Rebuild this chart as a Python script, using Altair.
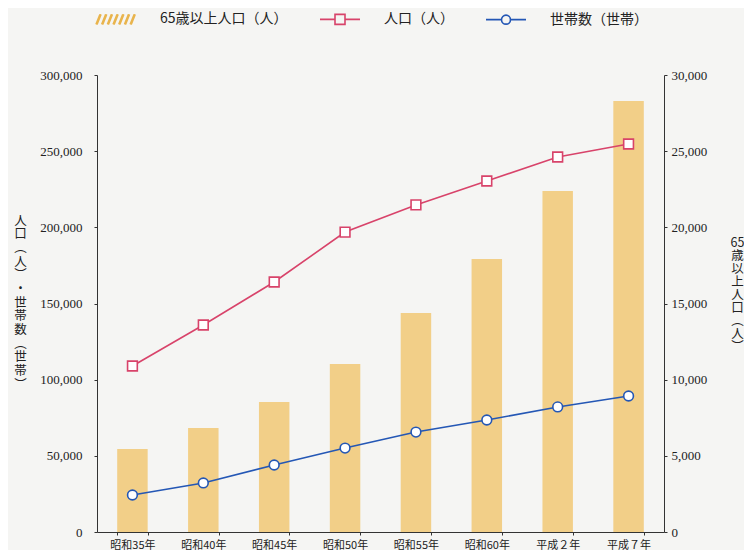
import altair as alt
import pandas as pd

# ---- data ----
years = ["昭和35年", "昭和40年", "昭和45年", "昭和50年", "昭和55年", "昭和60年", "平成２年", "平成７年"]
population = [109000, 135900, 164100, 196900, 214700, 230400, 246200, 254700]
households = [24300, 32200, 44000, 55100, 65600, 73500, 82100, 89300]
elderly = [5450, 6830, 8530, 11030, 14380, 17920, 22390, 28290]

legend_labels = ["65歳以上人口（人）", "人口（人）", "世帯数（世帯）"]
left_title = ["人", "口", "︵", "人", "︶", "・", "世", "帯", "数", "︵", "世", "帯", "︶"]
right_title = ["65", "歳", "以", "上", "人", "口", "︵", "人", "︶"]
left_ticks = [0, 50000, 100000, 150000, 200000, 250000, 300000]
right_ticks = [0, 5000, 10000, 15000, 20000, 25000, 30000]

# ---- styles ----
BAR = "#F2CF88"
HATCH = "#E9B44C"
RED = "#D8436A"
BLUE = "#2457B5"
AXIS = "#333333"
TEXT = "#222222"
CJK = "Noto Sans CJK JP"
SERIF = "Liberation Serif"

df = pd.DataFrame({"year": years, "pop": population, "hh": households, "elderly": elderly})

# legend symbol paths (units: 10px)
hatch_path = " ".join(
    f"M{-1 + k * 0.57:.2f},0.5L{-0.6 + k * 0.57:.2f},-0.5 M{-0.9 + k * 0.57:.2f},0.5L{-0.5 + k * 0.57:.2f},-0.5"
    for k in range(7)
)
square_path = "M-1,0H0.5 M1.5,0H3 M0.5,-0.5H1.5V0.5H0.5Z"
circle_path = "M-1,0H0.55 M1.45,0H3 M0.55,0A0.45,0.45 0 1,0 1.45,0A0.45,0.45 0 1,0 0.55,0"

legend_df = pd.DataFrame({"label": legend_labels})

x_enc = alt.X(
    "year:N",
    sort=years,
    title=None,
    scale=alt.Scale(paddingInner=0.57, paddingOuter=0.285),
    axis=alt.Axis(
        labelAngle=0, labelFont=CJK, labelFontSize=11, labelColor=TEXT,
        labelPadding=4, tickSize=3, tickBand="extent", domainColor=AXIS,
        tickColor=AXIS, grid=False,
    ),
)

bars = alt.Chart(df).mark_bar(color=BAR).encode(
    x=x_enc,
    y=alt.Y(
        "elderly:Q",
        scale=alt.Scale(domain=[0, 30000]),
        axis=alt.Axis(
            orient="right", values=right_ticks, format=",.0f", grid=False,
            labelFont=SERIF, labelFontSize=13, labelColor=TEXT, labelPadding=4,
            tickSize=3, domainColor=AXIS, tickColor=AXIS,
            title=right_title, titleAngle=0, titleX=73, titleY=161,
            titleBaseline="top", titleAlign="center", titleFont=CJK,
            titleFontSize=12.5, titleFontWeight="normal", titleLineHeight=13,
            titleColor=TEXT,
        ),
    ),
)

y_left = alt.Y(
    "value:Q",
    scale=alt.Scale(domain=[0, 300000]),
    axis=alt.Axis(
        orient="left", values=left_ticks, format=",.0f", grid=False,
        labelFont=SERIF, labelFontSize=13, labelColor=TEXT, labelPadding=12,
        tickSize=3, domainColor=AXIS, tickColor=AXIS,
        title=left_title, titleAngle=0, titleX=-77, titleY=139,
        titleBaseline="top", titleAlign="center", titleFont=CJK,
        titleFontSize=12.5, titleFontWeight="normal", titleLineHeight=13.7,
        titleColor=TEXT,
    ),
)

series_color = alt.Color(
    "series:N", scale=alt.Scale(domain=["pop", "hh"], range=[RED, BLUE]), legend=None
)

lines = alt.Chart(df).transform_fold(["pop", "hh"], as_=["series", "value"]).mark_line(
    strokeWidth=1.6
).encode(x=x_enc, y=y_left, color=series_color, detail="series:N")

points = alt.Chart(df).transform_fold(["pop", "hh"], as_=["series", "value"]).mark_point(
    filled=False, fill="white", fillOpacity=1, size=95, strokeWidth=1.6, opacity=1
).encode(
    x=x_enc,
    y=y_left,
    color=series_color,
    shape=alt.Shape(
        "series:N", scale=alt.Scale(domain=["pop", "hh"], range=["square", "circle"]), legend=None
    ),
)

inner = alt.layer(lines, points)

leg = alt.Legend(
    title=None, orient="none", legendX=-2, legendY=-67, direction="horizontal",
    symbolSize=400, symbolStrokeWidth=1.6, symbolOpacity=1, labelOffset=43,
    labelFont=CJK, labelFontSize=14, labelColor=TEXT, columnPadding=28,
    padding=0,
)

legend_layer = alt.Chart(legend_df).mark_point(filled=False, opacity=0).encode(
    color=alt.Color(
        "label:N", sort=legend_labels,
        scale=alt.Scale(domain=legend_labels, range=[HATCH, RED, BLUE]), legend=leg,
    ),
    shape=alt.Shape(
        "label:N", sort=legend_labels,
        scale=alt.Scale(domain=legend_labels, range=[hatch_path, square_path, circle_path]),
        legend=leg,
    ),
)

chart = (
    alt.layer(bars, inner, legend_layer)
    .resolve_scale(y="independent", color="independent", shape="independent")
    .properties(
        width=567, height=457,
        padding={"left": 5, "top": 0, "right": 0, "bottom": 0},
        background="#F5F5F3",
    )
    .configure_view(stroke=None)
)

chart.save("out.html", embed_options={"renderer": "svg", "actions": False})
